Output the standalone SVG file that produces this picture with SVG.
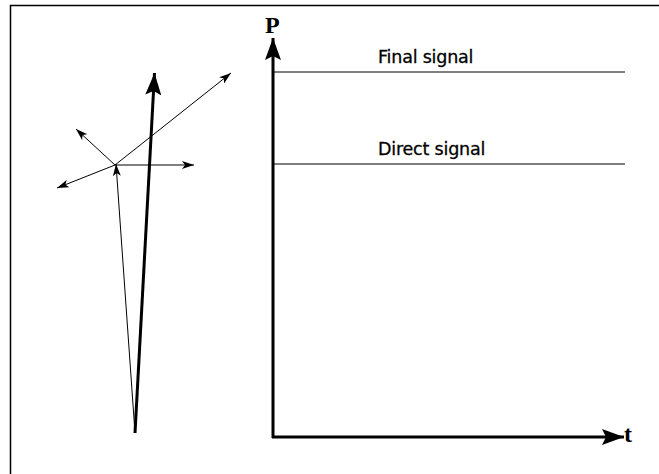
<svg xmlns="http://www.w3.org/2000/svg" width="659" height="474" viewBox="0 0 659 474">
<style>
.thin{stroke:#000;stroke-width:1;fill:none}
.thick{stroke:#000;stroke-width:3;fill:none}
.lbl{font-family:"DejaVu Sans","Liberation Sans",sans-serif;font-size:17.5px;fill:#000;letter-spacing:-0.2px;stroke:#000;stroke-width:0.3px}
.ax{font-family:"Liberation Serif",serif;font-weight:bold;font-size:24px;fill:#000}
</style>
<defs>
<marker id="sm" viewBox="0 0 12 8" refX="12" refY="4" markerWidth="12" markerHeight="8" markerUnits="userSpaceOnUse" orient="auto"><path d="M0,0 L12,4 L0,8 L3,4 z" fill="#000"/></marker>
<marker id="big" viewBox="0 0 22 16" refX="22" refY="8" markerWidth="22" markerHeight="16" markerUnits="userSpaceOnUse" orient="auto"><path d="M0,0 L22,8 L0,16 L4,8 z" fill="#000"/></marker>
</defs>
<rect x="0" y="0" width="659" height="474" fill="#fff"/>
<rect x="10.5" y="5.5" width="660" height="480" fill="none" stroke="#000" stroke-width="1.5"/>
<g id="connectors">
<line class="thick" x1="135" y1="433" x2="154.5" y2="73" marker-end="url(#big)"/>
<line class="thin" x1="135" y1="433" x2="116" y2="164" marker-end="url(#sm)"/>
<line class="thin" x1="115" y1="165" x2="76" y2="129" marker-end="url(#sm)"/>
<line class="thin" x1="115" y1="165" x2="194" y2="165" marker-end="url(#sm)"/>
<line class="thin" x1="115" y1="165" x2="57" y2="188" marker-end="url(#sm)"/>
<line class="thin" x1="115" y1="165" x2="231" y2="73" marker-end="url(#sm)"/>
<line class="thick" x1="273" y1="438" x2="273" y2="38" marker-end="url(#big)"/>
<line class="thick" x1="272" y1="437" x2="624" y2="437" marker-end="url(#big)"/>
<line class="thin" x1="273" y1="72" x2="625" y2="72"/>
<line class="thin" x1="273" y1="164" x2="625" y2="164"/>
</g>
<g id="axis-p"><text class="ax" x="265" y="33">P</text></g>
<g id="axis-t"><text class="ax" x="624" y="442">t</text></g>
<g id="final-signal"><text class="lbl" x="378" y="63">Final signal</text></g>
<g id="direct-signal"><text class="lbl" x="378" y="155">Direct signal</text></g>
</svg>
